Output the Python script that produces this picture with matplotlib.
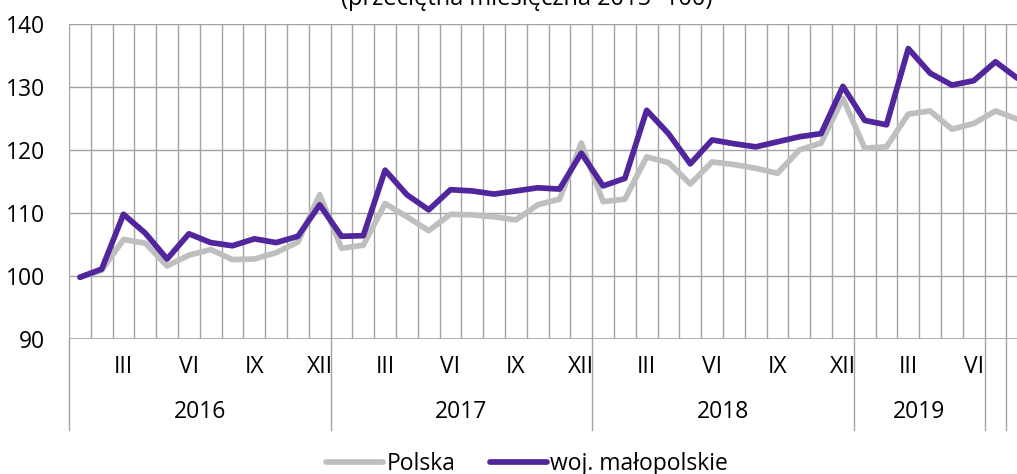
import matplotlib
matplotlib.use("Agg")
import matplotlib.pyplot as plt
import matplotlib.transforms as mtransforms

plt.rcParams['font.family'] = ['Open Sans', 'DejaVu Sans']

# ---- data ----
years = ["2016", "2017", "2018", "2019"]
year_months = [12, 12, 12, 6]          # months labelled under each year group
extra_groups = [1, 1]                  # trailing single-month groups (Jul, Aug 2019)
month_labels = ["III", "VI", "IX", "XII"]
month_label_idx = [2, 5, 8, 11]

polska = [99.8, 100.9, 105.8, 105.2, 101.6, 103.3, 104.2, 102.6, 102.7, 103.7, 105.4, 112.9,
          104.4, 104.9, 111.5, 109.4, 107.2, 109.8, 109.7, 109.4, 108.9, 111.3, 112.2, 121.1,
          111.8, 112.2, 118.9, 118.0, 114.6, 118.1, 117.7, 117.1, 116.3, 120.0, 121.1, 128.2,
          120.3, 120.5, 125.7, 126.2, 123.3, 124.2, 126.2, 124.9]
malopolskie = [99.8, 101.1, 109.8, 106.8, 102.7, 106.7, 105.3, 104.8, 105.9, 105.3, 106.3, 111.3,
               106.3, 106.4, 116.8, 112.9, 110.5, 113.7, 113.5, 113.0, 113.5, 114.0, 113.8, 119.5,
               114.3, 115.5, 126.3, 122.6, 117.8, 121.6, 121.0, 120.5, 121.3, 122.1, 122.6, 130.1,
               124.7, 124.0, 136.1, 132.2, 130.3, 131.0, 134.0, 131.4]
series_names = ["Polska", "woj. małopolskie"]
title = "(przeciętna miesięczna 2015=100)"

GRAY = "#bfbfbf"
PURPLE = "#51259b"
GRID = "#a3a3a3"

W, H = 1017, 474
fig = plt.figure(figsize=(W / 100, H / 100), dpi=100)
ax_left, ax_top, ax_bottom = 69, 24, 339
month_w = 21.8
n = len(polska)
ax = fig.add_axes([ax_left / W, 1 - ax_bottom / H, n * month_w / W, (ax_bottom - ax_top) / H])

x = list(range(n))
ax.plot(x, polska, color=GRAY, lw=4.1, solid_joinstyle='round', solid_capstyle='round', zorder=3, label=series_names[0])
ax.plot(x, malopolskie, color=PURPLE, lw=4.1, solid_joinstyle='round', solid_capstyle='round', zorder=4, label=series_names[1])

ax.set_xlim(-0.5, n - 0.5)
ax.set_ylim(90, 140)
ax.set_yticks(range(90, 141, 10))
ax.tick_params(axis='y', length=0, pad=17, labelsize=16.5)
ax.set_xticks([])
for s in ax.spines.values():
    s.set_visible(False)

# grid
for k in range(n + 1):
    ax.axvline(k - 0.5, color=GRID, lw=1, zorder=1)
for v in range(90, 141, 10):
    ax.axhline(v, color=GRID, lw=1.2 if v == 90 else 1, zorder=1)

axh = ax_bottom - ax_top
trans = mtransforms.blended_transform_factory(ax.transData, ax.transAxes)

# group separators
bounds = [-0.5]
pos = -0.5
for m in year_months + extra_groups:
    pos += m
    bounds.append(pos)
for b in bounds:
    ax.plot([b, b], [0, -(430 - ax_bottom) / axh], transform=trans, color=GRID, lw=1, clip_on=False)

# month labels and year labels
start = 0
for yr, m in zip(years, year_months):
    for lab, idx in zip(month_labels, month_label_idx):
        if idx < m:
            ax.text(start + idx, -(367 - ax_bottom) / axh, lab, transform=trans,
                    ha='center', va='center', fontsize=16.5)
    ax.text(start + (m - 1) / 2, -(412 - ax_bottom) / axh, yr, transform=trans,
            ha='center', va='center', fontsize=16.5)
    start += m

fig.text(0.518, 1 - 5 / H, title, ha='center', va='baseline', fontsize=17)

leg = fig.legend(loc='center', bbox_to_anchor=(527 / W, 1 - 464 / H), ncol=2, frameon=False,
                 fontsize=16.5, handlelength=2.5, handletextpad=0.15, columnspacing=1.5,
                 borderpad=0, borderaxespad=0)

fig.savefig("out.png", dpi=100)
